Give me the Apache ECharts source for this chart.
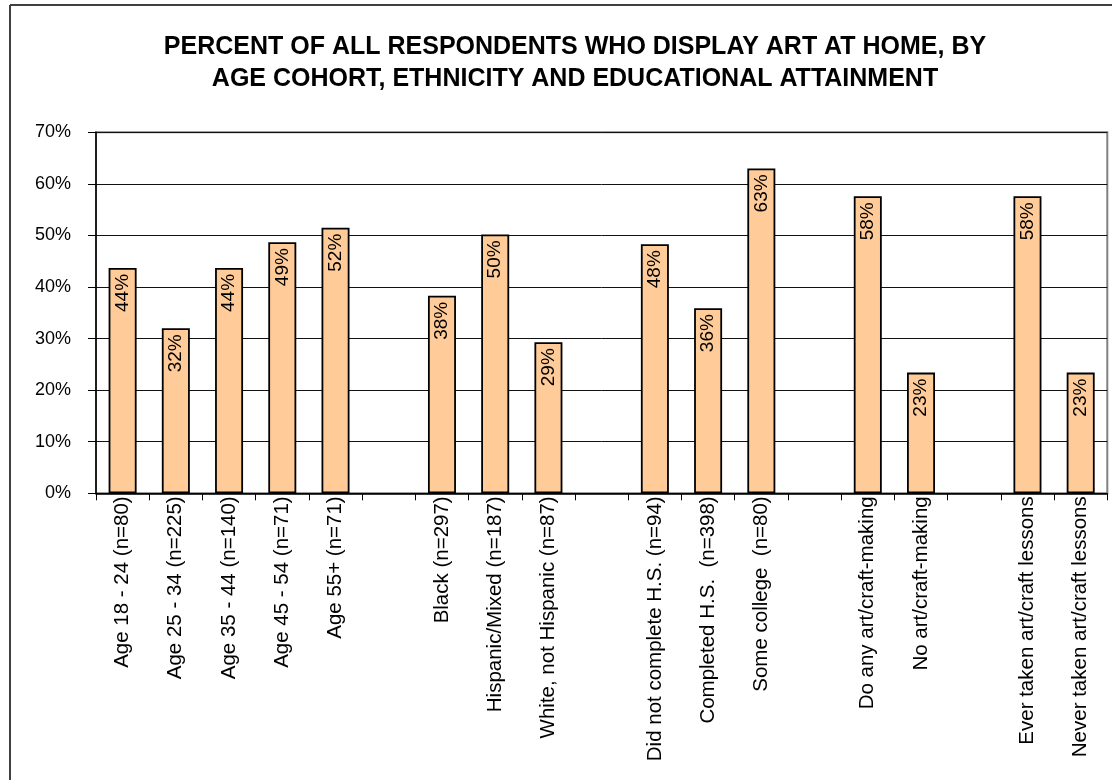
<!DOCTYPE html>
<html>
<head>
<meta charset="utf-8">
<script src="https://cdn.jsdelivr.net/npm/echarts@6/dist/echarts.min.js"></script>
<style>
html,body{margin:0;padding:0;background:#fff;}
#chart{width:1112px;height:780px;}
</style>
</head>
<body>
<div id="chart"></div>
<script>
// Categories ('' = spacer slot between groups)
const categories = [
  'Age 18 - 24 (n=80)', 'Age 25 - 34 (n=225)', 'Age 35 - 44 (n=140)', 'Age 45 - 54 (n=71)', 'Age 55+ (n=71)',
  '',
  'Black (n=297)', 'Hispanic/Mixed (n=187)', 'White, not Hispanic (n=87)',
  '',
  'Did not complete H.S. (n=94)', 'Completed H.S.  (n=398)', 'Some college  (n=80)',
  '',
  'Do any art/craft-making', 'No art/craft-making',
  '',
  'Ever taken art/craft lessons', 'Never taken art/craft lessons'
];
// Percent of respondents who display art at home (null = spacer)
const percentValues = [
  43.7, 32.0, 43.7, 48.7, 51.5,
  null,
  38.3, 50.2, 29.3,
  null,
  48.3, 35.9, 63.0,
  null,
  57.6, 23.4,
  null,
  57.6, 23.4
];
const yTicks = [0, 10, 20, 30, 40, 50, 60, 70];

const chart = echarts.init(document.getElementById('chart'), null, {renderer: 'canvas'});
const FONT = '"Liberation Sans", Arial, sans-serif';

chart.setOption({
  animation: false,
  backgroundColor: '#ffffff',
  title: {
    text: 'PERCENT OF ALL RESPONDENTS WHO DISPLAY ART AT HOME, BY\nAGE COHORT, ETHNICITY AND EDUCATIONAL ATTAINMENT',
    left: 570,
    top: 26,
    textAlign: 'center',
    textStyle: {
      fontFamily: FONT,
      fontWeight: 'bold',
      fontSize: 25,
      lineHeight: 32,
      color: '#000'
    }
  },
  graphic: [
    {type: 'line', shape: {x1: 10, y1: 5, x2: 1112, y2: 5}, style: {stroke: '#404040', lineWidth: 2}},
    {type: 'line', shape: {x1: 10, y1: 5, x2: 10, y2: 780}, style: {stroke: '#404040', lineWidth: 2}}
  ],
  grid: {
    left: 96,
    top: 132.3,
    right: 4.7,
    bottom: 286.7,
    outerBoundsMode: 'none',
    containLabel: false,
    show: true,
    borderColor: '#808080',
    borderWidth: 2,
    backgroundColor: 'transparent'
  },
  xAxis: {
    type: 'category',
    data: categories,
    boundaryGap: true,
    axisLine: {show: true, lineStyle: {color: '#000', width: 1.5}},
    axisTick: {show: true, inside: false, length: 7, alignWithLabel: false, interval: 0, lineStyle: {color: '#000'}},
    axisLabel: {
      interval: 0,
      rotate: 90,
      margin: 3,
      fontFamily: FONT,
      fontSize: 20.5,
      color: '#000'
    },
    splitLine: {show: false}
  },
  yAxis: {
    type: 'value',
    min: yTicks[0],
    max: yTicks[yTicks.length - 1],
    interval: 10,
    axisLine: {show: true, lineStyle: {color: '#000', width: 1.5}},
    axisTick: {show: true, inside: false, length: 8, lineStyle: {color: '#000'}},
    axisLabel: {
      margin: 25,
      fontFamily: FONT,
      fontSize: 18,
      color: '#000',
      formatter: v => v + '%'
    },
    splitLine: {show: true, lineStyle: {color: '#111', width: 1}}
  },
  series: [{
    type: 'bar',
    data: percentValues,
    barWidth: 28,
    itemStyle: {color: '#FFCC99', borderColor: '#000', borderWidth: 1.8},
    label: {
      show: true,
      position: 'insideTop',
      distance: 6,
      rotate: 90,
      align: 'right',
      verticalAlign: 'middle',
      fontFamily: FONT,
      fontSize: 19,
      color: '#000',
      formatter: p => Math.round(p.value) + '%'
    }
  }]
});
</script>
</body>
</html>
